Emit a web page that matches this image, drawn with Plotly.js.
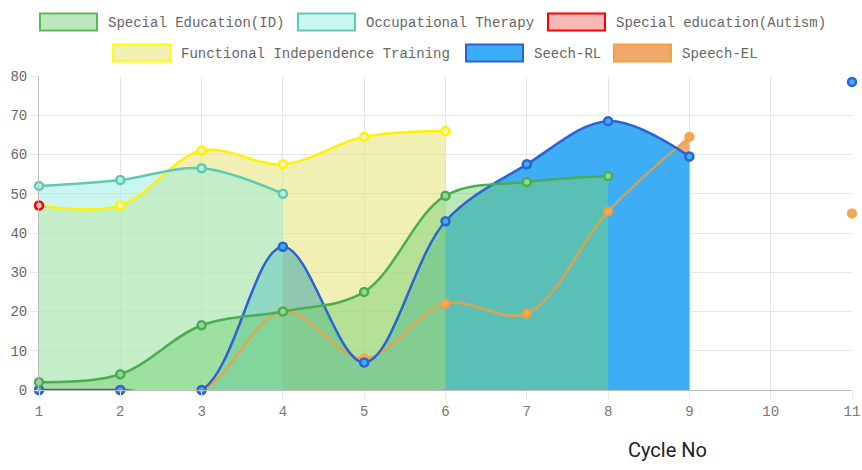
<!DOCTYPE html>
<html>
<head>
<meta charset="utf-8">
<script src="https://cdn.plot.ly/plotly-3.0.1.min.js"></script>
<style>
html,body{margin:0;padding:0;background:#fff;}
#chart{width:862px;height:470px;}
</style>
</head>
<body>
<div id="chart"></div>
<script>
// ---- data ----
const cycles = [1, 2, 3, 4, 5, 6, 7, 8, 9, 10, 11];
const seriesNames = ["Special Education(ID)", "Occupational Therapy", "Special education(Autism)",
                     "Functional Independence Training", "Seech-RL", "Speech-EL"];
const specialEdID      = [2, 4, 16.5, 20, 25, 49.5, 53, 54.5, null, null, null];
const occTherapy       = [52, 53.5, 56.5, 50, null, null, null, null, null, null, null];
const specialEdAutism  = [47, null, null, null, null, null, null, null, null, null, null];
const functionalIndep  = [47, 47, 61, 57.5, 64.5, 66, null, null, null, null, null];
const speechRL         = [0, 0, 0, 36.5, 7, 43, 57.5, 68.5, 59.5, null, 78.5];
const speechEL         = [0, 0, 0, 20, 8, 22, 19.5, 45.5, 64.5, null, 45];
const xTickLabels = ["1","2","3","4","5","6","7","8","9","10","11"];

// ---- styles ----
const lineColors = ["#4aad52", "#5fc9b4", "#ff0000", "#fff200", "#2b62d4", "rgba(243,158,60,0.8)"];
const markerFills = ["rgba(150,220,150,0.9)", "rgba(190,240,232,0.9)", "#f8b4b4", "#f3f3b8", "#3daef5", "#f5a95a"];
const fillColors = ["rgba(119,209,119,0.5)", "rgba(144,236,223,0.47)", "rgba(248,150,150,0.5)",
                    "rgba(225,225,105,0.5)", "rgba(61,174,245,1)", "rgba(240,165,100,0.95)"];
const legendFill = ["#bde8bd", "#cbf6f0", "#f8b8b8", "#f0f0b4", "#3daef5", "#f0a86c"];
const legendLine = ["#5cb85c", "#5fc9b4", "#ff0000", "#ffff00", "#2b62d4", "#f5a040"];
const allValues = [specialEdID, occTherapy, specialEdAutism, functionalIndep, speechRL, speechEL];

// split a series into contiguous (non-null) runs so fills do not bridge gaps
function runs(xs, ys) {
  const out = [];
  let cx = [], cy = [];
  ys.forEach((v, k) => {
    if (v === null) { if (cx.length) { out.push([cx, cy]); cx = []; cy = []; } }
    else { cx.push(xs[k]); cy.push(v); }
  });
  if (cx.length) out.push([cx, cy]);
  return out;
}

// draw order bottom->top : Speech-EL ... Special Education(ID)
const order = [5, 4, 3, 2, 1, 0];
const traces = [];
order.forEach(i => {
  runs(cycles, allValues[i]).forEach(([sx, sy]) => {
    traces.push({
      x: sx, y: sy, type: 'scatter', mode: 'none',
      fill: 'tozeroy', fillcolor: fillColors[i],
      line: {shape: 'spline', smoothing: 1},
      showlegend: false, hoverinfo: 'skip'
    });
  });
});
order.forEach(i => {
  traces.push({
    x: cycles, y: allValues[i], type: 'scatter', mode: 'lines+markers',
    name: seriesNames[i],
    line: {shape: 'spline', smoothing: 1, color: lineColors[i], width: 2.5},
    marker: {size: 8, color: markerFills[i], line: {color: lineColors[i], width: 2.5}},
    connectgaps: false, showlegend: false, cliponaxis: false
  });
});

// ---- layout helpers (pixel -> paper) ----
const L = 39, R = 852, T = 76, B = 390;
const px = p => (p - L) / (R - L);
const py = p => (B - p) / (B - T);

const shapes = [];
const annotations = [];
const legendPos = [[40, 22], [298, 22], [548, 22], [113, 53], [466, 53], [614, 53]];
legendPos.forEach((pos, i) => {
  const [x0, yc] = pos;
  shapes.push({
    type: 'rect', xref: 'paper', yref: 'paper',
    x0: px(x0), x1: px(x0 + 57), y0: py(yc + 8.5), y1: py(yc - 8.5),
    fillcolor: legendFill[i], line: {color: legendLine[i], width: 2}
  });
  annotations.push({
    xref: 'paper', yref: 'paper', x: px(x0 + 66), y: py(yc + 1),
    xanchor: 'left', yanchor: 'middle', showarrow: false,
    text: seriesNames[i],
    font: {family: 'Liberation Mono, DejaVu Sans Mono, monospace', size: 14, color: '#666'}
  });
});
annotations.push({
  xref: 'paper', yref: 'paper', x: px(667), y: py(450),
  xanchor: 'center', yanchor: 'middle', showarrow: false,
  text: 'Cycle No',
  font: {family: 'Roboto, sans-serif', size: 20, color: '#222'}
});

const layout = {
  width: 862, height: 470,
  margin: {l: L, r: 862 - R, t: T, b: 470 - B, pad: 0},
  paper_bgcolor: '#fff', plot_bgcolor: '#fff',
  showlegend: false,
  xaxis: {
    range: [1, 11], tickmode: 'array', tickvals: cycles, ticktext: xTickLabels,
    showgrid: true, gridcolor: '#e6e6e6', gridwidth: 1, zeroline: false,
    showline: true, linecolor: '#bdbdbd', linewidth: 1,
    ticks: 'outside', ticklen: 8, tickcolor: '#e6e6e6',
    tickfont: {family: 'Liberation Mono, DejaVu Sans Mono, monospace', size: 14, color: '#777'},
    fixedrange: true
  },
  yaxis: {
    range: [0, 80], dtick: 10, tick0: 0,
    showgrid: true, gridcolor: '#e6e6e6', gridwidth: 1, zeroline: false,
    showline: true, linecolor: '#bdbdbd', linewidth: 1,
    ticks: 'outside', ticklen: 8, tickcolor: '#e6e6e6',
    tickfont: {family: 'Liberation Mono, DejaVu Sans Mono, monospace', size: 14, color: '#666'},
    fixedrange: true
  },
  shapes: shapes,
  annotations: annotations
};

Plotly.newPlot('chart', traces, layout, {displayModeBar: false, staticPlot: true});
</script>
</body>
</html>
